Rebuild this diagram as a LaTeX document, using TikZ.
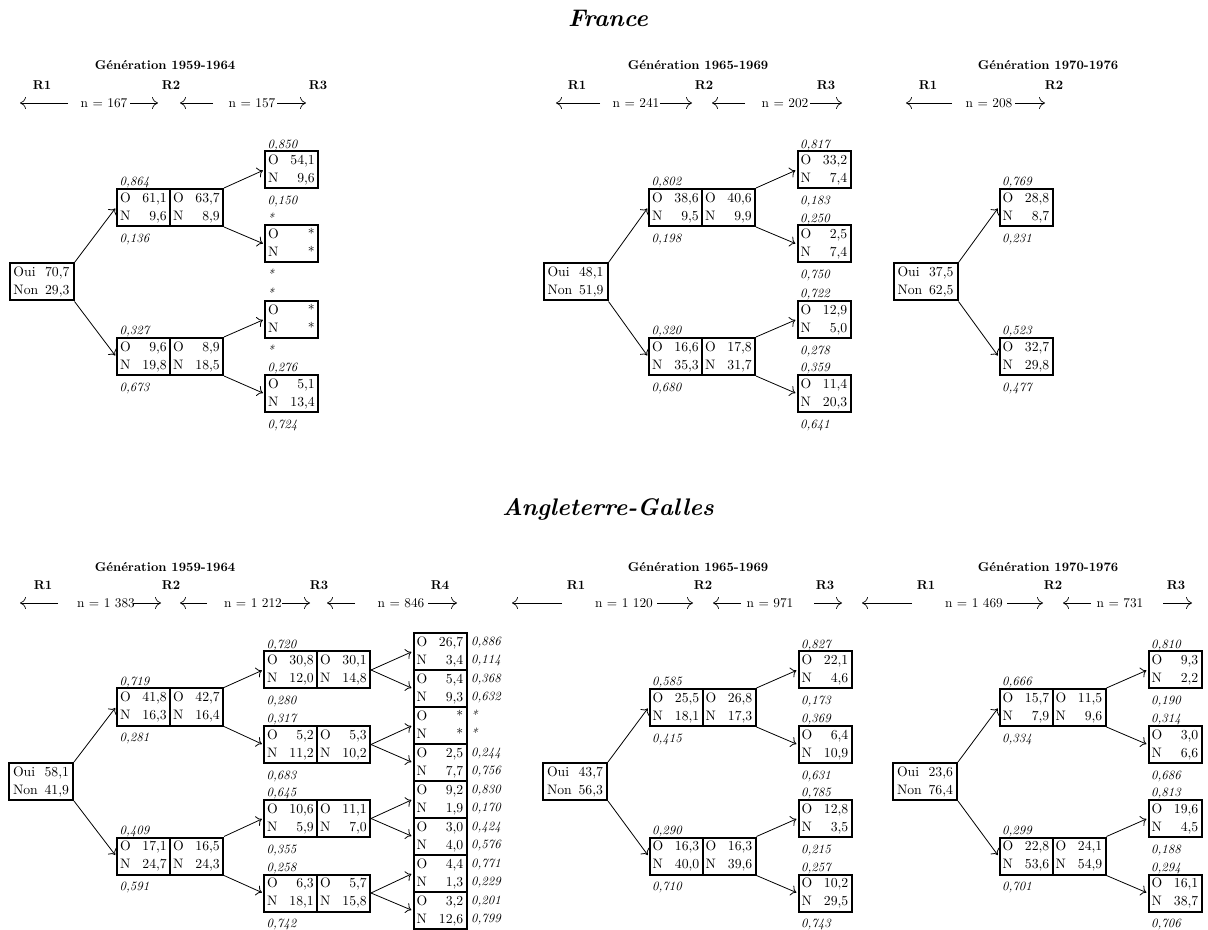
\documentclass[tikz,border=0pt]{standalone}
\usetikzlibrary{arrows.meta}
\tikzset{
 cell/.style={draw, line width=1.5pt, rectangle, minimum width=39.75pt, minimum height=27.75pt, inner sep=0pt, align=center, font=\fontsize{10.3}{13.5}\selectfont},
 rootbox/.style={cell, minimum width=48pt},
 lab/.style={inner sep=0pt, font=\fontsize{9.5}{10}\selectfont\itshape},
 conn/.style={line width=0.6pt, -{Computer Modern Rightarrow[length=4pt,width=8pt]}, shorten >=0.9pt},
 harrow/.style={line width=0.5pt, -{Computer Modern Rightarrow[length=4.5pt,width=9pt]}},
 hd/.style={font=\fontsize{9.6}{11}\selectfont\bfseries, inner sep=0pt},
 nn/.style={font=\fontsize{10}{12}\selectfont, inner sep=0pt},
 ttl/.style={font=\fontsize{18}{22}\selectfont\bfseries\itshape, inner sep=0pt}
}
\newcommand\rowb[2]{\hbox to 35pt{\strut #1\hfill #2}}
\newcommand\rowr[2]{\hbox to 42pt{\strut #1\hfill #2}}
% cell with labels above/below
\newcommand\C[7]{\node[cell] (#1) at (#2,#3) {\rowb{O}{#4}\\\rowb{N}{#5}};
 \node[lab,anchor=base west] (#1-ab) at ([xshift=2.5pt,yshift=1.8pt]#1.north west) {#6};
 \node[lab,anchor=base west] (#1-be) at ([xshift=2.5pt,yshift=-11.4pt]#1.south west) {#7};}
% cell without labels
\newcommand\Cn[5]{\node[cell] (#1) at (#2,#3) {\rowb{O}{#4}\\\rowb{N}{#5}};}
% R4 cell with labels at right
\newcommand\Rf[6]{\node[cell] (#1) at (440,#2) {\rowb{O}{#3}\\\rowb{N}{#4}};
 \node[lab,anchor=base west] (#1-r1) at ([xshift=2.5pt,yshift=-9.8pt]#1.north east) {#5};
 \node[lab,anchor=base west] (#1-r2) at ([xshift=2.5pt,yshift=-23.3pt]#1.north east) {#6};}
% root
\newcommand\Rt[5]{\node[rootbox] (#1) at (#2,#3) {\rowr{Oui}{#4}\\\rowr{Non}{#5}};}
% header arrow
\newcommand\Ha[4]{\coordinate (#1a) at (#2,#4); \coordinate (#1b) at (#3,#4); \draw[harrow] (#1a) -- (#1b);}
\begin{document}
\begin{tikzpicture}[x=0.75pt,y=-0.75pt]
\useasboundingbox (0,0) rectangle (1208,930);
% titles
\node[ttl] (tF) at (608,18) {France};
\node[ttl] (tA) at (608,509) {Angleterre-Galles};

% ===== France headers
\node[hd] (fg1) at (165,65) {Génération 1959-1964};
\node[hd] (fr11) at (42,85) {R1}; \node[hd] (fr12) at (171,85) {R2}; \node[hd] (fr13) at (318,85) {R3};
\Ha{fh11}{68}{20}{103} \node[nn] (fn11) at (104,103) {n = 167}; \Ha{fh12}{130}{158}{103}
\Ha{fh13}{213}{180}{103} \node[nn] (fn12) at (252,103) {n = 157}; \Ha{fh14}{277}{306}{103}

\node[hd] (fg2) at (698,65) {Génération 1965-1969};
\node[hd] (fr21) at (577,85) {R1}; \node[hd] (fr22) at (704,85) {R2}; \node[hd] (fr23) at (826,85) {R3};
\Ha{fh21}{600}{556}{103} \node[nn] (fn21) at (636,103) {n = 241}; \Ha{fh22}{660}{692}{103}
\Ha{fh23}{745}{712}{103} \node[nn] (fn22) at (785,103) {n = 202}; \Ha{fh24}{810}{842}{103}

\node[hd] (fg3) at (1048,65) {Génération 1970-1976};
\node[hd] (fr31) at (928,85) {R1}; \node[hd] (fr32) at (1054,85) {R2};
\Ha{fh31}{952}{906}{103} \node[nn] (fn31) at (989,103) {n = 208}; \Ha{fh32}{1015}{1045}{103}

% ===== France 1959-1964
\Rt{fa0}{41.5}{282}{70,7}{29,3}
\C{fa1}{143.5}{207.5}{61,1}{9,6}{0,864}{0,136} \Cn{fa1r}{196.5}{207.5}{63,7}{8,9}
\C{fa2}{143.5}{356.5}{9,6}{19,8}{0,327}{0,673} \Cn{fa2r}{196.5}{356.5}{8,9}{18,5}
\C{fa3}{291.5}{170}{54,1}{9,6}{0,850}{0,150}
\C{fa4}{291.5}{244}{*}{*}{*}{*}
\C{fa5}{291.5}{319.5}{*}{*}{*}{*}
\C{fa6}{291.5}{393.5}{5,1}{13,4}{0,276}{0,724}
\draw[conn] (fa0.north east) -- (fa1.west);
\draw[conn] (fa0.south east) -- (fa2.west);
\draw[conn] (fa1r.north east) -- (fa3.west);
\draw[conn] (fa1r.south east) -- (fa4.west);
\draw[conn] (fa2r.north east) -- (fa5.west);
\draw[conn] (fa2r.south east) -- (fa6.west);

% ===== France 1965-1969
\Rt{fb0}{575.5}{282}{48,1}{51,9}
\C{fb1}{675.5}{207.5}{38,6}{9,5}{0,802}{0,198} \Cn{fb1r}{728.5}{207.5}{40,6}{9,9}
\C{fb2}{675.5}{356.5}{16,6}{35,3}{0,320}{0,680} \Cn{fb2r}{728.5}{356.5}{17,8}{31,7}
\C{fb3}{824}{170}{33,2}{7,4}{0,817}{0,183}
\C{fb4}{824}{244}{2,5}{7,4}{0,250}{0,750}
\C{fb5}{824}{319.5}{12,9}{5,0}{0,722}{0,278}
\C{fb6}{824}{393.5}{11,4}{20,3}{0,359}{0,641}
\draw[conn] (fb0.north east) -- (fb1.west);
\draw[conn] (fb0.south east) -- (fb2.west);
\draw[conn] (fb1r.north east) -- (fb3.west);
\draw[conn] (fb1r.south east) -- (fb4.west);
\draw[conn] (fb2r.north east) -- (fb5.west);
\draw[conn] (fb2r.south east) -- (fb6.west);

% ===== France 1970-1976
\Rt{fc0}{925.5}{282}{37,5}{62,5}
\C{fc1}{1026}{207.5}{28,8}{8,7}{0,769}{0,231}
\C{fc2}{1026}{356.5}{32,7}{29,8}{0,523}{0,477}
\draw[conn] (fc0.north east) -- (fc1.west);
\draw[conn] (fc0.south east) -- (fc2.west);

% ===== Angleterre headers
\node[hd] (ag1) at (165,567) {Génération 1959-1964};
\node[hd] (ar11) at (43,585) {R1}; \node[hd] (ar12) at (171,585) {R2}; \node[hd] (ar13) at (319,585) {R3}; \node[hd] (ar14) at (440,585) {R4};
\Ha{ah11}{58}{20}{603} \node[nn] (an11) at (106,603) {n = 1 383}; \Ha{ah12}{133}{161}{603}
\Ha{ah13}{207}{180}{603} \node[nn] (an12) at (253,603) {n = 1 212}; \Ha{ah14}{282}{310}{603}
\Ha{ah15}{355}{327}{603} \node[nn] (an13) at (401,603) {n = 846}; \Ha{ah16}{428}{457}{603}

\node[hd] (ag2) at (698,567) {Génération 1965-1969};
\node[hd] (ar21) at (576,585) {R1}; \node[hd] (ar22) at (703,585) {R2}; \node[hd] (ar23) at (825,585) {R3};
\Ha{ah21}{562}{512}{603} \node[nn] (an21) at (624,603) {n = 1 120}; \Ha{ah22}{657}{693}{603}
\Ha{ah23}{741}{713}{603} \node[nn] (an22) at (770,603) {n = 971}; \Ha{ah24}{814}{842}{603}

\node[hd] (ag3) at (1048,567) {Génération 1970-1976};
\node[hd] (ar31) at (926,585) {R1}; \node[hd] (ar32) at (1053,585) {R2}; \node[hd] (ar33) at (1176,585) {R3};
\Ha{ah31}{912}{862}{603} \node[nn] (an31) at (974,603) {n = 1 469}; \Ha{ah32}{1007}{1043}{603}
\Ha{ah33}{1091}{1063}{603} \node[nn] (an32) at (1120,603) {n = 731}; \Ha{ah34}{1163}{1192}{603}

% ===== Angleterre 1959-1964
\Rt{aa0}{41}{781.5}{58,1}{41,9}
\C{aa1}{143.5}{707}{41,8}{16,3}{0,719}{0,281} \Cn{aa1r}{196.5}{707}{42,7}{16,4}
\C{aa2}{143.5}{856}{17,1}{24,7}{0,409}{0,591} \Cn{aa2r}{196.5}{856}{16,5}{24,3}
\C{aa3}{290.5}{670}{30,8}{12,0}{0,720}{0,280} \Cn{aa3r}{343.5}{670}{30,1}{14,8}
\C{aa4}{290.5}{744.5}{5,2}{11,2}{0,317}{0,683} \Cn{aa4r}{343.5}{744.5}{5,3}{10,2}
\C{aa5}{290.5}{818.5}{10,6}{5,9}{0,645}{0,355} \Cn{aa5r}{343.5}{818.5}{11,1}{7,0}
\C{aa6}{290.5}{893}{6,3}{18,1}{0,258}{0,742} \Cn{aa6r}{343.5}{893}{5,7}{15,8}
\Rf{ab1}{651.5}{26,7}{3,4}{0,886}{0,114}
\Rf{ab2}{688.5}{5,4}{9,3}{0,368}{0,632}
\Rf{ab3}{725.5}{*}{*}{*}{*}
\Rf{ab4}{762.5}{2,5}{7,7}{0,244}{0,756}
\Rf{ab5}{799.5}{9,2}{1,9}{0,830}{0,170}
\Rf{ab6}{836.5}{3,0}{4,0}{0,424}{0,576}
\Rf{ab7}{873.5}{4,4}{1,3}{0,771}{0,229}
\Rf{ab8}{910.5}{3,2}{12,6}{0,201}{0,799}
\draw[conn] (aa0.north east) -- (aa1.west);
\draw[conn] (aa0.south east) -- (aa2.west);
\draw[conn] (aa1r.north east) -- (aa3.west);
\draw[conn] (aa1r.south east) -- (aa4.west);
\draw[conn] (aa2r.north east) -- (aa5.west);
\draw[conn] (aa2r.south east) -- (aa6.west);
\draw[conn] (aa3r.east) -- (ab1.west);
\draw[conn] (aa3r.east) -- (ab2.west);
\draw[conn] (aa4r.east) -- (ab3.west);
\draw[conn] (aa4r.east) -- (ab4.west);
\draw[conn] (aa5r.east) -- (ab5.west);
\draw[conn] (aa5r.east) -- (ab6.west);
\draw[conn] (aa6r.east) -- (ab7.west);
\draw[conn] (aa6r.east) -- (ab8.west);

% ===== Angleterre 1965-1969
\Rt{ac0}{575}{781.5}{43,7}{56,3}
\C{ac1}{676}{707.5}{25,5}{18,1}{0,585}{0,415} \Cn{ac1r}{729}{707.5}{26,8}{17,3}
\C{ac2}{676}{856}{16,3}{40,0}{0,290}{0,710} \Cn{ac2r}{729}{856}{16,3}{39,6}
\C{ac3}{825}{670}{22,1}{4,6}{0,827}{0,173}
\C{ac4}{825}{744.5}{6,4}{10,9}{0,369}{0,631}
\C{ac5}{825}{818.5}{12,8}{3,5}{0,785}{0,215}
\C{ac6}{825}{893}{10,2}{29,5}{0,257}{0,743}
\draw[conn] (ac0.north east) -- (ac1.west);
\draw[conn] (ac0.south east) -- (ac2.west);
\draw[conn] (ac1r.north east) -- (ac3.west);
\draw[conn] (ac1r.south east) -- (ac4.west);
\draw[conn] (ac2r.north east) -- (ac5.west);
\draw[conn] (ac2r.south east) -- (ac6.west);

% ===== Angleterre 1970-1976
\Rt{ad0}{925}{781.5}{23,6}{76,4}
\C{ad1}{1026}{707.5}{15,7}{7,9}{0,666}{0,334} \Cn{ad1r}{1079}{707.5}{11,5}{9,6}
\C{ad2}{1026}{856}{22,8}{53,6}{0,299}{0,701} \Cn{ad2r}{1079}{856}{24,1}{54,9}
\C{ad3}{1175}{670}{9,3}{2,2}{0,810}{0,190}
\C{ad4}{1175}{744.5}{3,0}{6,6}{0,314}{0,686}
\C{ad5}{1175}{818.5}{19,6}{4,5}{0,813}{0,188}
\C{ad6}{1175}{893}{16,1}{38,7}{0,294}{0,706}
\draw[conn] (ad0.north east) -- (ad1.west);
\draw[conn] (ad0.south east) -- (ad2.west);
\draw[conn] (ad1r.north east) -- (ad3.west);
\draw[conn] (ad1r.south east) -- (ad4.west);
\draw[conn] (ad2r.north east) -- (ad5.west);
\draw[conn] (ad2r.south east) -- (ad6.west);
\end{tikzpicture}
\end{document}
